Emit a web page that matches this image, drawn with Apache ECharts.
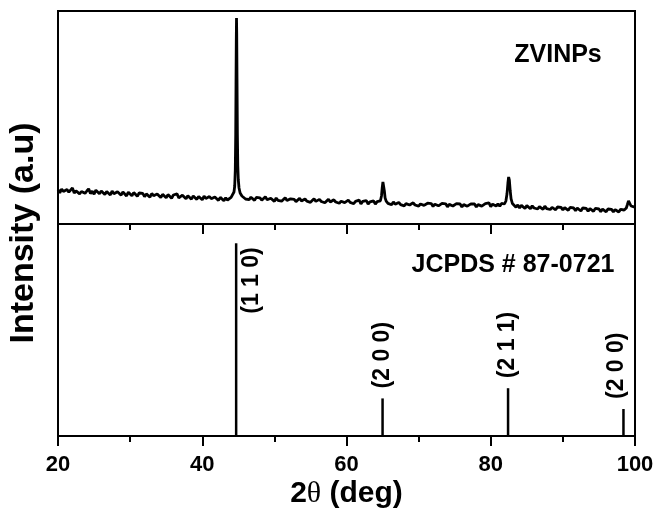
<!DOCTYPE html>
<html>
<head>
<meta charset="utf-8">
<title>XRD pattern of ZVINPs</title>
<script src="https://cdn.jsdelivr.net/npm/echarts@6/dist/echarts.min.js"></script>
<style>
  html, body { margin: 0; padding: 0; background: #fff; }
  #chart { width: 657px; height: 510px; }
</style>
</head>
<body>
<div id="chart"></div>
<script>
// Measured diffraction scan: [2θ (deg), counts]
const scanPattern = [
  [20.00,342],[20.25,312],[20.50,350],[20.75,326],[21.00,306],[21.25,345],[21.50,318],[21.75,337],
  [22.00,360],[22.25,310],[22.50,331],[22.75,350],[23.00,302],[23.25,325],[23.50,343],[23.75,307],
  [24.00,330],[24.25,352],[24.50,304],[24.75,329],[25.00,298],[25.25,338],[25.50,322],[25.75,303],
  [26.00,331],[26.25,350],[26.50,296],[26.75,324],[27.00,309],[27.25,290],[27.50,330],[27.75,302],
  [28.00,285],[28.25,322],[28.50,306],[28.75,288],[29.00,321],[29.25,304],[29.50,280],[29.75,318],
  [30.00,301],[30.25,282],[30.50,314],[30.75,296],[31.00,277],[31.25,310],[31.50,290],[31.75,306],
  [32.00,273],[32.25,301],[32.50,288],[32.75,268],[33.00,305],[33.25,283],[33.50,270],[33.75,300],
  [34.00,281],[34.25,264],[34.50,297],[34.75,277],[35.00,262],[35.25,294],[35.50,275],[35.75,258],
  [36.00,290],[36.25,272],[36.50,301],[36.75,262],[37.00,254],[37.25,288],[37.50,268],[37.75,252],
  [38.00,283],[38.25,264],[38.50,248],[38.75,281],[39.00,262],[39.25,246],[39.50,276],[39.75,258],
  [40.00,242],[40.25,279],[40.50,256],[40.75,243],[41.00,274],[41.25,253],[41.50,238],[41.75,270],
  [42.00,250],[42.25,236],[42.50,266],[42.75,248],[43.00,233],[43.25,262],[43.50,240],[43.75,258],
  [44.00,266],[44.25,285],[44.40,320],[44.50,380],[44.58,540],[44.64,900],[44.68,1400],[44.72,1850],
  [44.75,2060],[44.78,1900],[44.82,1450],[44.87,900],[44.93,580],[45.00,440],[45.10,360],[45.25,310],
  [45.50,280],[45.75,278],[46.00,250],[46.25,270],[46.50,244],[46.75,268],[47.00,255],[47.25,236],
  [47.50,266],[47.75,247],[48.00,262],[48.25,238],[48.50,254],[48.75,272],[49.00,243],[49.25,230],
  [49.50,258],[49.75,240],[50.00,226],[50.25,260],[50.50,237],[50.75,252],[51.00,228],[51.25,244],
  [51.50,262],[51.75,234],[52.00,222],[52.25,252],[52.50,232],[52.75,246],[53.00,224],[53.25,240],
  [53.50,257],[53.75,230],[54.00,218],[54.25,250],[54.50,228],[54.75,244],[55.00,217],[55.25,236],
  [55.50,252],[55.75,226],[56.00,214],[56.25,246],[56.50,225],[56.75,240],[57.00,212],[57.25,232],
  [57.50,248],[57.75,220],[58.00,210],[58.25,242],[58.50,220],[58.75,236],[59.00,207],[59.25,228],
  [59.50,244],[59.75,214],[60.00,204],[60.25,238],[60.50,216],[60.75,232],[61.00,203],[61.25,226],
  [61.50,210],[61.75,238],[62.00,200],[62.25,226],[62.50,208],[62.75,234],[63.00,200],[63.25,222],
  [63.50,206],[63.75,232],[64.00,199],[64.25,224],[64.50,212],[64.70,232],[64.85,280],[64.95,360],
  [65.05,420],[65.15,410],[65.25,330],[65.35,262],[65.50,228],[65.75,206],[66.00,214],[66.25,192],
  [66.50,220],[66.75,198],[67.00,186],[67.25,216],[67.50,194],[67.75,210],[68.00,182],[68.25,204],
  [68.50,218],[68.75,190],[69.00,180],[69.25,212],[69.50,190],[69.75,206],[70.00,178],[70.25,200],
  [70.50,216],[70.75,186],[71.00,176],[71.25,208],[71.50,188],[71.75,204],[72.00,176],[72.25,198],
  [72.50,212],[72.75,182],[73.00,174],[73.25,206],[73.50,186],[73.75,202],[74.00,172],[74.25,196],
  [74.50,210],[74.75,180],[75.00,171],[75.25,204],[75.50,184],[75.75,200],[76.00,170],[76.25,194],
  [76.50,208],[76.75,178],[77.00,170],[77.25,202],[77.50,182],[77.75,200],[78.00,170],[78.25,194],
  [78.50,208],[78.75,179],[79.00,172],[79.25,204],[79.50,184],[79.75,212],[80.00,174],[80.25,198],
  [80.50,210],[80.75,180],[81.00,202],[81.25,178],[81.50,206],[81.75,186],[81.90,200],[82.10,230],
  [82.25,300],[82.38,410],[82.48,470],[82.58,440],[82.70,330],[82.82,252],[83.00,205],[83.25,185],
  [83.50,168],[83.75,190],[84.00,160],[84.25,186],[84.50,170],[84.75,155],[85.00,184],[85.25,165],
  [85.50,152],[85.75,182],[86.00,160],[86.25,178],[86.50,150],[86.75,174],[87.00,162],[87.25,146],
  [87.50,178],[87.75,154],[88.00,170],[88.25,145],[88.50,166],[88.75,156],[89.00,142],[89.25,170],
  [89.50,150],[89.75,166],[90.00,140],[90.25,164],[90.50,150],[90.75,136],[91.00,166],[91.25,146],
  [91.50,160],[91.75,134],[92.00,158],[92.25,142],[92.50,130],[92.75,160],[93.00,140],[93.25,156],
  [93.50,128],[93.75,154],[94.00,138],[94.25,126],[94.50,156],[94.75,136],[95.00,150],[95.25,124],
  [95.50,148],[95.75,132],[96.00,122],[96.25,150],[96.50,130],[96.75,146],[97.00,122],[97.25,144],
  [97.50,130],[97.75,120],[98.00,146],[98.25,126],[98.50,140],[98.60,138],[98.80,160],[98.95,195],
  [99.10,232],[99.25,215],[99.45,180],[99.70,162],[99.85,172],[100.00,166]
];

// Reference pattern JCPDS # 87-0721 (α-Fe)
const refAngles    = [44.7, 65.0, 82.4, 98.4];
const refIntensity = [100, 19.5, 24.8, 14.0];
const refPlanes    = ['(1 1 0)', '(2 0 0)', '(2 1 1)', '(2 0 0)'];

const angleTicks = [20, 40, 60, 80, 100];

const sampleName = 'ZVINPs';
const refName = 'JCPDS # 87-0721';

const FONT = '"Liberation Sans", Arial, sans-serif';

const chart = echarts.init(document.getElementById('chart'), null, { renderer: 'canvas' });

const gridLeft = 58, gridRight = 22;

function xAxisBase(gridIndex, withLabels) {
  return {
    type: 'value',
    gridIndex: gridIndex,
    min: angleTicks[0],
    max: angleTicks[angleTicks.length - 1],
    interval: angleTicks[1] - angleTicks[0],
    axisLine: { show: true, onZero: false, lineStyle: { color: '#000', width: 2 } },
    axisTick: { show: true, inside: false, length: 10, lineStyle: { color: '#000', width: 2 } },
    minorTick: { show: true, splitNumber: 2, length: 6, lineStyle: { color: '#000', width: 2 } },
    splitLine: { show: false },
    axisLabel: {
      show: withLabels,
      margin: 18,
      color: '#000',
      fontSize: 22,
      fontWeight: 'bold',
      fontFamily: FONT,
      formatter: v => angleTicks.includes(v) ? String(v) : ''
    }
  };
}

function yAxisBase(gridIndex, max) {
  return {
    type: 'value',
    gridIndex: gridIndex,
    min: 0,
    max: max,
    axisLine: { show: false },
    axisTick: { show: false },
    axisLabel: { show: false },
    splitLine: { show: false }
  };
}

const bottomX = xAxisBase(1, true);
bottomX.name = '{n|2}{g|θ}{n| (deg)}';
bottomX.nameLocation = 'middle';
bottomX.nameGap = 43;
bottomX.nameTextStyle = {
  rich: {
    n: { fontSize: 30, fontWeight: 'bold', fontFamily: FONT, color: '#000' },
    g: { fontSize: 30, fontWeight: 'normal', fontFamily: '"Liberation Serif", "DejaVu Serif", serif', color: '#000' }
  }
};

// Stick pattern: one vertical bar per reflection, with its Miller indices
function renderStick(params, api) {
  const x = api.value(0);
  const h = api.value(1);
  const base = api.coord([x, 0]);
  const top = api.coord([x, h]);
  const label = refPlanes[params.dataIndex];
  const cs = params.coordSys;
  const labelLen = 70;
  const gap = 10;
  const font = 'bold 23px ' + FONT;
  let text;
  if (top[1] - gap - labelLen < cs.y) {
    // not enough room above the bar: put the label beside it
    text = {
      type: 'text',
      x: top[0] + 16,
      y: top[1] + 4,
      rotation: Math.PI / 2,
      style: { text: label, align: 'right', verticalAlign: 'middle', fill: '#000', font: font }
    };
  } else {
    const cx = Math.min(top[0], cs.x + cs.width - 18);
    text = {
      type: 'text',
      x: cx,
      y: top[1] - gap,
      rotation: Math.PI / 2,
      style: { text: label, align: 'left', verticalAlign: 'middle', fill: '#000', font: font }
    };
  }
  return {
    type: 'group',
    children: [
      { type: 'line', shape: { x1: base[0], y1: base[1], x2: top[0], y2: top[1] },
        style: { stroke: '#000', lineWidth: 2.5 } },
      text
    ]
  };
}

const option = {
  backgroundColor: '#fff',
  animation: false,
  grid: [
    { left: gridLeft, right: gridRight, top: 11, height: 213, show: true,
      borderColor: '#000', borderWidth: 2, backgroundColor: 'transparent' },
    { left: gridLeft, right: gridRight, top: 224, height: 215, show: true,
      borderColor: '#000', borderWidth: 2, backgroundColor: 'transparent' }
  ],
  xAxis: [ xAxisBase(0, false), bottomX ],
  yAxis: [ yAxisBase(0, 2130), yAxisBase(1, 110) ],
  series: [
    {
      type: 'line',
      xAxisIndex: 0,
      yAxisIndex: 0,
      data: scanPattern,
      showSymbol: false,
      lineStyle: { color: '#000', width: 2.8 },
      z: 3
    },
    {
      type: 'custom',
      xAxisIndex: 1,
      yAxisIndex: 1,
      data: refAngles.map((a, i) => [a, refIntensity[i]]),
      renderItem: renderStick,
      z: 3
    }
  ],
  graphic: [
    { type: 'text', x: 24, y: 233, rotation: Math.PI / 2,
      style: { text: 'Intensity (a.u)', align: 'center', verticalAlign: 'middle',
               fill: '#000', font: 'bold 34px ' + FONT } },
    { type: 'text', x: 558, y: 55,
      style: { text: sampleName, align: 'center', verticalAlign: 'middle',
               fill: '#000', font: 'bold 25px ' + FONT } },
    { type: 'text', x: 513, y: 265,
      style: { text: refName, align: 'center', verticalAlign: 'middle',
               fill: '#000', font: 'bold 25px ' + FONT } }
  ]
};

chart.setOption(option);
</script>
</body>
</html>
